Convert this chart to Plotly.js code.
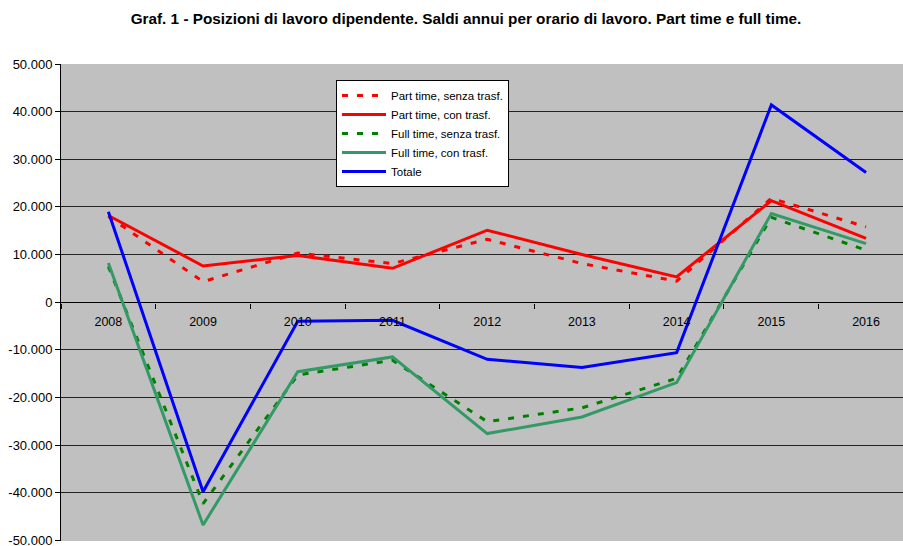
<!DOCTYPE html>
<html>
<head>
<meta charset="utf-8">
<script src="https://cdn.plot.ly/plotly-3.0.1.min.js"></script>
<style>html,body{margin:0;padding:0;background:#fff;}#chart{width:903px;height:546px;}</style>
</head>
<body>
<div id="chart"></div>
<script>
const years = ["2008","2009","2010","2011","2012","2013","2014","2015","2016"];
const partTimeSenza = [18000, 4300, 10300, 8100, 13200, 8100, 4400, 21800, 15800];
const partTimeCon = [18200, 7600, 9800, 7100, 15100, 10000, 5300, 21300, 13400];
const fullTimeSenza = [7500, -42300, -15300, -12200, -25100, -22200, -16000, 17800, 10900];
const fullTimeCon = [8200, -46800, -14600, -11500, -27600, -24100, -16900, 18600, 12300];
const totale = [19000, -39800, -4000, -3800, -12000, -13700, -10600, 41400, 27200];
const yTickVals = [-50000,-40000,-30000,-20000,-10000,0,10000,20000,30000,40000,50000];
const yTickText = ["-50.000","-40.000","-30.000","-20.000","-10.000","0","10.000","20.000","30.000","40.000","50.000"];
const seriesNames = ["Part time, senza trasf.","Part time, con trasf.","Full time, senza trasf.","Full time, con trasf.","Totale"];

const traces = [
  {x: years, y: partTimeSenza, name: seriesNames[0], mode: 'lines', line: {color: '#ff0000', width: 3, dash: '6px,9px'}},
  {x: years, y: partTimeCon, name: seriesNames[1], mode: 'lines', line: {color: '#ff0000', width: 3}},
  {x: years, y: fullTimeSenza, name: seriesNames[2], mode: 'lines', line: {color: '#008000', width: 3, dash: '6px,9px'}},
  {x: years, y: fullTimeCon, name: seriesNames[3], mode: 'lines', line: {color: '#339966', width: 3}},
  {x: years, y: totale, name: seriesNames[4], mode: 'lines', line: {color: '#0000ff', width: 3}}
];

const layout = {
  width: 903, height: 546,
  margin: {l: 61, r: 0, t: 64, b: 5, autoexpand: false},
  paper_bgcolor: '#ffffff',
  plot_bgcolor: '#c0c0c0',
  font: {family: 'Arial, Liberation Sans, sans-serif', size: 12, color: '#000'},
  title: {text: '<b>Graf. 1 - Posizioni di lavoro dipendente. Saldi annui per orario di lavoro. Part time e full time.</b>',
          x: 466/903, xanchor: 'center', y: 1 - 19/546, yanchor: 'middle', xref: 'container', yref: 'container',
          font: {family: 'Arial, Liberation Sans, sans-serif', size: 15.3, color: '#000'}},
  showlegend: true,
  legend: {x: (336 - 61) / 842, xanchor: 'left', y: (541 - 80) / 477, yanchor: 'top', xref: 'paper', yref: 'paper',
           bgcolor: '#ffffff', bordercolor: '#000', borderwidth: 1, itemwidth: 44,
           font: {size: 11.5, family: 'Arial, Liberation Sans, sans-serif'}, tracegroupgap: 0},
  xaxis: {type: 'category', range: [-0.5, 8.39], anchor: 'free', position: 0.5,
          showgrid: false, zeroline: false, showline: false,
          ticks: 'outside', tickson: 'boundaries', ticklen: 5, tickcolor: '#000', ticklabelstandoff: 10,
          tickfont: {size: 12.5}, fixedrange: true},
  yaxis: {range: [-50150, 50000], tickvals: yTickVals, ticktext: yTickText, ticklabeloverflow: 'allow',
          showgrid: true, gridcolor: '#222', gridwidth: 1, zeroline: true, zerolinecolor: '#000', zerolinewidth: 1,
          showline: true, linecolor: '#000', linewidth: 1, ticks: 'outside', ticklen: 5, tickcolor: '#000',
          tickfont: {size: 13}, fixedrange: true}
};

Plotly.newPlot('chart', traces, layout, {displayModeBar: false, staticPlot: true});
</script>
</body>
</html>
